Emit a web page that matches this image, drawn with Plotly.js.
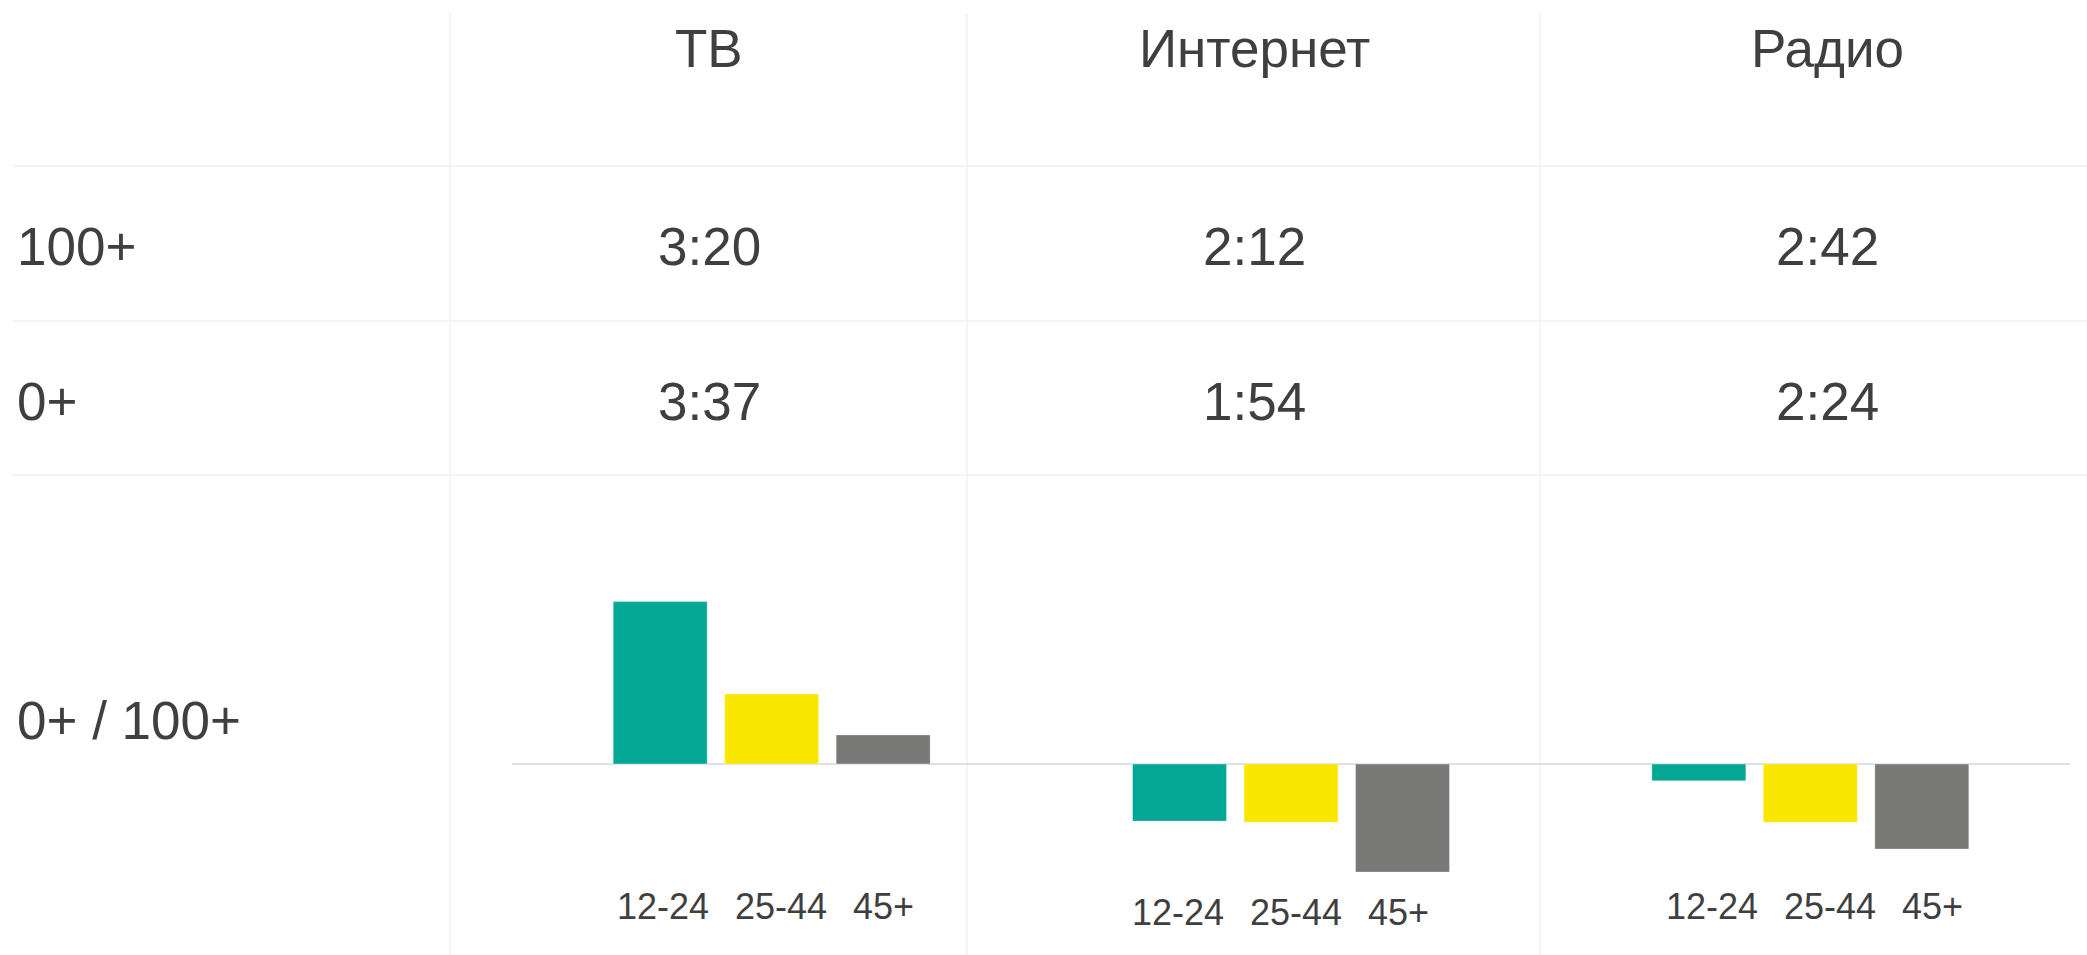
<!DOCTYPE html>
<html>
<head>
<meta charset="utf-8">
<script src="https://cdn.plot.ly/plotly-3.0.1.min.js"></script>
<style>
  html, body { margin: 0; padding: 0; background: #ffffff; }
  #chart { width: 2087px; height: 955px; }
</style>
</head>
<body>
<div id="chart"></div>
<script>
// ---- data ----
const channels = ['ТВ', 'Интернет', 'Радио'];
const rowLabels = ['100+', '0+', '0+ / 100+'];
const time100 = ['3:20', '2:12', '2:42'];
const time0 = ['3:37', '1:54', '2:24'];
const ageGroups = ['12-24', '25-44', '45+'];
const ratio1224 = [29.0, -10.2, -3.0];
const ratio2544 = [12.5, -10.4, -10.4];
const ratio45 = [5.2, -19.3, -15.2];
const barColors = ['#02a894', '#f9e700', '#787876'];

// ---- layout helpers (pixels on a 2087x955 page) ----
const W = 2087, H = 955;
const px = v => v / W;
const py = v => 1 - v / H;
const textColor = '#3f3f3f';
const fontFam = '"Liberation Sans", Arial, Helvetica, sans-serif';
const gridColor = '#f0f0f0';

const bargap = 0.356;
const series = [ratio1224, ratio2544, ratio45];

const traces = series.map((vals, j) => ({
  type: 'bar',
  name: ageGroups[j],
  x: channels,
  y: vals,
  marker: { color: barColors[j], line: { width: 1, color: 'rgba(255,255,255,0.35)' } },
  hoverinfo: 'x+y+name',
  showlegend: false
}));

const annotations = [];
const colCenters = [709, 1254, 1827];
channels.forEach((c, i) => {
  annotations.push({ xref: 'paper', yref: 'paper', x: px(colCenters[i]), y: py(49),
    text: c, showarrow: false, xanchor: 'center', yanchor: 'middle',
    font: { family: fontFam, size: 53, color: textColor } });
  annotations.push({ xref: 'paper', yref: 'paper', x: px(colCenters[i]), y: py(247),
    text: time100[i], showarrow: false, xanchor: 'center', yanchor: 'middle',
    font: { family: fontFam, size: 53, color: textColor } });
  annotations.push({ xref: 'paper', yref: 'paper', x: px(colCenters[i]), y: py(402),
    text: time0[i], showarrow: false, xanchor: 'center', yanchor: 'middle',
    font: { family: fontFam, size: 53, color: textColor } });
});
const rowY = [247, 402, 720];
rowLabels.forEach((r, i) => {
  annotations.push({ xref: 'paper', yref: 'paper', x: px(15), y: py(rowY[i]),
    text: r, showarrow: false, xanchor: 'left', yanchor: 'middle',
    font: { family: fontFam, size: 53, color: textColor } });
});
// age labels under each group (laid out like one line of text)
const labelY = [906, 912, 906];
const groupShift = [-6, -10, 5];
const labelOffset = [-103, 15, 117.5];
channels.forEach((c, i) => {
  ageGroups.forEach((a, j) => {
    annotations.push({ xref: 'x', yref: 'paper', x: c, y: py(labelY[i]),
      xshift: groupShift[i] + labelOffset[j],
      text: a, showarrow: false, xanchor: 'center', yanchor: 'middle',
      font: { family: fontFam, size: 36, color: textColor } });
  });
});

const shapes = [];
[450, 967, 1540].forEach(x => shapes.push({ type: 'line', xref: 'paper', yref: 'paper',
  x0: px(x), x1: px(x), y0: py(13), y1: 0, line: { color: gridColor, width: 1.3 }, layer: 'below' }));
[166, 321, 475].forEach(y => shapes.push({ type: 'line', xref: 'paper', yref: 'paper',
  x0: px(13), x1: 1, y0: py(y), y1: py(y), line: { color: gridColor, width: 1.3 }, layer: 'below' }));

const layout = {
  width: W, height: H,
  margin: { l: 0, r: 0, t: 0, b: 0, pad: 0 },
  paper_bgcolor: '#ffffff',
  plot_bgcolor: 'rgba(0,0,0,0)',
  barmode: 'group',
  bargap: bargap,
  bargroupgap: 0.157,
  showlegend: false,
  xaxis: {
    domain: [512 / W, 2070 / W],
    type: 'category',
    range: [-0.5, 2.5],
    showticklabels: false, showgrid: false, zeroline: false, showline: false, ticks: ''
  },
  yaxis: {
    domain: [(H - 932) / H, (H - 568) / H],
    range: [-30, 35],
    showticklabels: false, showgrid: false,
    zeroline: true, zerolinecolor: '#dde0e6', zerolinewidth: 2,
    showline: false, ticks: ''
  },
  annotations: annotations,
  shapes: shapes
};

Plotly.newPlot('chart', traces, layout, { displayModeBar: false, staticPlot: true });
</script>
</body>
</html>
